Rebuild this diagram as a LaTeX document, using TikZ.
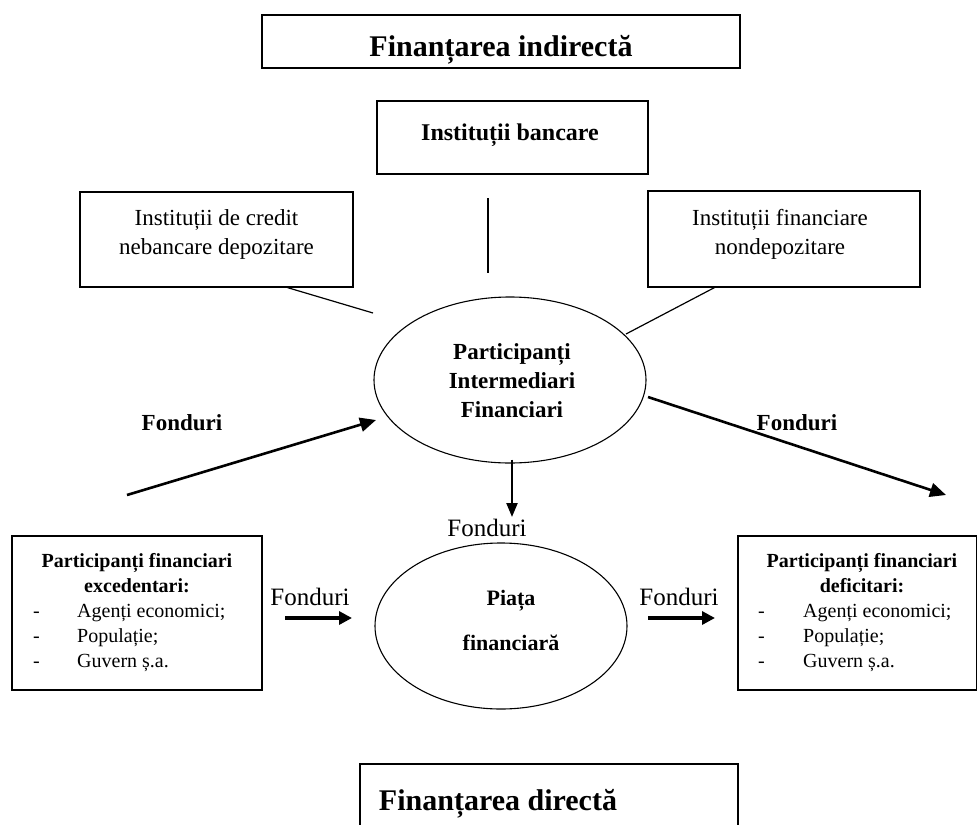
\documentclass[tikz,border=0pt]{standalone}
\usepackage{fontspec}
\setmainfont{Liberation Serif}
\usetikzlibrary{arrows.meta,calc,shapes.geometric}
\begin{document}
\begin{tikzpicture}[x=1pt,y=-1pt,
  box/.style={draw, line width=1.3pt, inner sep=0pt, rectangle},
  ell/.style={draw, ellipse, line width=1.1pt, inner sep=0pt},
  link/.style={line width=1.2pt},
  bigarrow/.style={line width=2.6pt, -{Triangle[length=16pt,width=14pt]}},
  midarrow/.style={line width=2.2pt, -{Triangle[length=14pt,width=11pt]}},
  fatarrow/.style={line width=3.4pt, -{Triangle[length=13pt,width=13pt]}},
  ttl/.style={font=\fontsize{30}{36}\selectfont\bfseries, anchor=base, inner sep=0pt},
  lbl/.style={font=\fontsize{23}{29}\selectfont, align=center, anchor=base, inner sep=0pt},
  blbl/.style={font=\fontsize{24}{29}\selectfont\bfseries, align=center, anchor=base, inner sep=0pt},
  elbl/.style={font=\fontsize{23}{29}\selectfont\bfseries, align=center, anchor=base, inner sep=0pt},
  fund/.style={font=\fontsize{25}{30}\selectfont, anchor=base, inner sep=0pt},
  bfund/.style={font=\fontsize{23}{28}\selectfont\bfseries, anchor=base, inner sep=0pt},
  hdr/.style={font=\fontsize{20}{25}\selectfont\bfseries, align=center, anchor=base, inner sep=0pt},
  item/.style={font=\fontsize{20}{25}\selectfont, anchor=base west, inner sep=0pt}
]
\useasboundingbox (0,0) rectangle (978,825);

% boxes
\node[box, minimum width=478pt, minimum height=53pt] (ttop) at (501,41.5) {};
\node[ttl] (ttoptxt) at (501,56) {Finanțarea indirectă};

\node[box, minimum width=271pt, minimum height=73pt] (bank) at (512.5,137.5) {};
\node[blbl] (banktxt) at (510,140) {Instituții bancare};

\node[box, minimum width=273pt, minimum height=95pt] (lbox) at (216.5,239.5) {};
\node[lbl] (lboxtxt) at (216.5,254) {Instituții de credit\\nebancare depozitare};

\node[box, minimum width=272pt, minimum height=96pt] (rbox) at (784,239) {};
\node[lbl] (rboxtxt) at (780,254) {Instituții financiare\\nondepozitare};

% ellipses
\node[ell, minimum width=272pt, minimum height=166pt] (ell1) at (510,380) {};
\node[elbl] (ell1txt) at (512,417) {Participanți\\Intermediari\\Financiari};

\node[ell, minimum width=252pt, minimum height=166pt] (ell2) at (501,626) {};
\node[elbl, font=\fontsize{22}{45}\selectfont\bfseries] (ell2txt) at (511,650) {Piața\\financiară};

% bottom boxes
\node[box, minimum width=250pt, minimum height=154pt] (exc) at (137,613) {};
\node[hdr] (exchdr) at (137,592) {Participanți financiari\\excedentari:};
\node[item] (exc1d) at (33,617) {-};
\node[item] (exc2d) at (33,642) {-};
\node[item] (exc3d) at (33,667) {-};
\node[item] (exc1) at (77,617) {Agenți economici;};
\node[item] (exc2) at (77,642) {Populație;};
\node[item] (exc3) at (77,667) {Guvern ș.a.};

\node[box, minimum width=238.5pt, minimum height=154pt] (def) at (857.25,613) {};
\node[hdr] (defhdr) at (862,592) {Participanți financiari\\deficitari:};
\node[item] (def1d) at (758,617) {-};
\node[item] (def2d) at (758,642) {-};
\node[item] (def3d) at (758,667) {-};
\node[item] (def1) at (803,617) {Agenți economici;};
\node[item] (def2) at (803,642) {Populație;};
\node[item] (def3) at (803,667) {Guvern ș.a.};

\node[box, minimum width=378pt, minimum height=80pt] (tbot) at (549,804) {};
\node[ttl] (tbottxt) at (498,810) {Finanțarea directă};

% connectors
\coordinate (v1) at (488,198);
\coordinate (v2) at (488,273);
\draw[link] (v1) -- (v2);
\coordinate (c1) at (373,313);
\draw[link] ([xshift=-66pt]lbox.south east) -- (c1);
\coordinate (c2) at (626,334);
\draw[link] ([xshift=67pt]rbox.south west) -- (c2);

% funds arrows
\coordinate (a1) at (127,495);
\coordinate (a2) at (376,420);
\draw[bigarrow] (a1) -- (a2);
\node[bfund] (f1) at (182,430) {Fonduri};

\coordinate (b1) at (648,397);
\coordinate (b2) at (946,495);
\draw[bigarrow] (b1) -- (b2);
\node[bfund] (f2) at (797,430) {Fonduri};

\coordinate (d2) at (512,517);
\draw[midarrow] ([xshift=2pt,yshift=4pt]ell1.south) -- (d2);
\node[fund] (f3) at (487,536) {Fonduri};

\coordinate (h0) at (285,618);
\coordinate (h1) at (352,618);
\draw[fatarrow] (h0) -- (h1);
\node[fund] (f4) at (310,605) {Fonduri};

\coordinate (h2) at (648,618);
\coordinate (h3) at (715,618);
\draw[fatarrow] (h2) -- (h3);
\node[fund] (f5) at (679,605) {Fonduri};
\end{tikzpicture}
\end{document}
